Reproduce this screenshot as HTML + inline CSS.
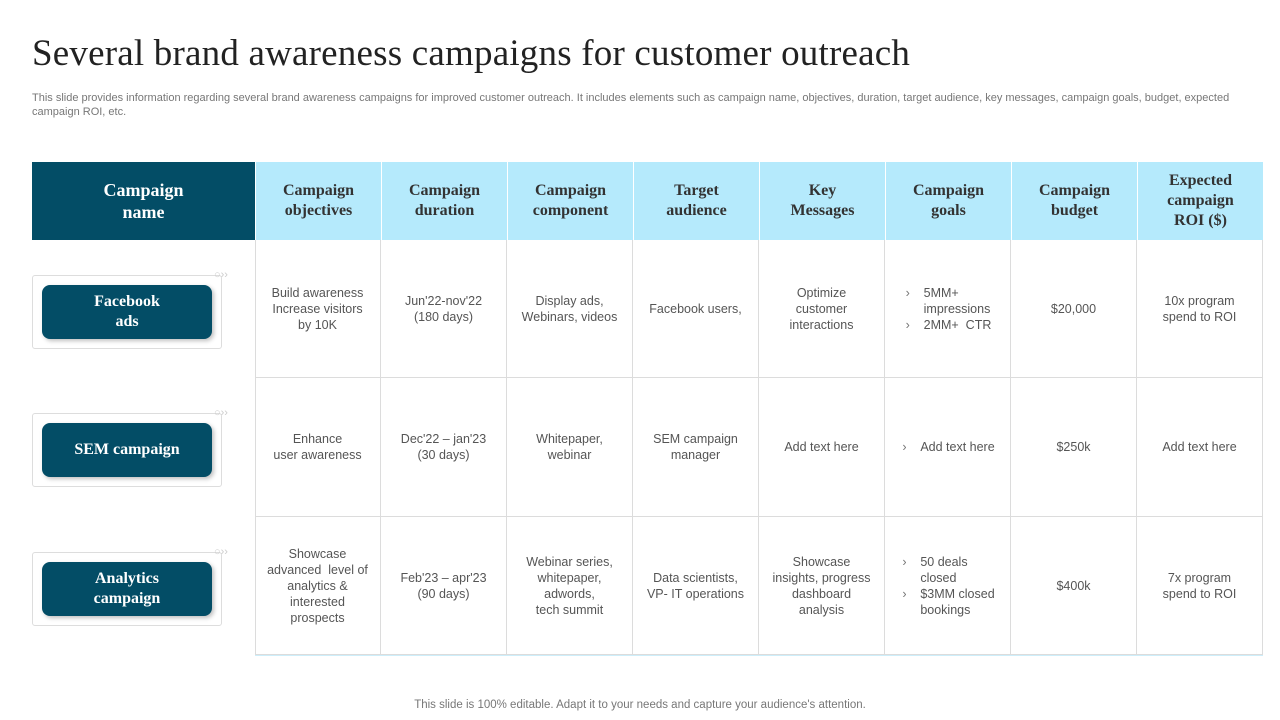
<!DOCTYPE html>
<html><head><meta charset="utf-8"><style>
*{margin:0;padding:0;box-sizing:border-box}
body{width:1280px;height:720px;background:#fff;position:relative;overflow:hidden;font-family:"Liberation Sans",sans-serif}
.abs{position:absolute}
h1{position:absolute;left:32px;top:32px;font-family:"Liberation Serif",serif;font-weight:normal;font-size:37px;color:#222;letter-spacing:0.2px}
.sub{left:32px;top:91px;width:1220px;font-size:11px;line-height:14px;color:#777}
.hname{left:32px;top:162px;width:223px;height:78px;background:#034d66;color:#fff;font-family:"Liberation Serif",serif;font-weight:bold;font-size:18px;line-height:22px;display:flex;align-items:center;justify-content:center;text-align:center}
.hc{top:162px;height:78px;width:126px;background:#b5eafc;border-left:1px solid #fff;color:#333;font-family:"Liberation Serif",serif;font-weight:bold;font-size:16px;line-height:20px;display:flex;align-items:center;justify-content:center;text-align:center}
.c{width:126px;border-right:1px solid #dcdcdc;border-bottom:1px solid #dcdcdc;color:#555;font-size:12.5px;line-height:16px;display:flex;align-items:center;justify-content:center;text-align:center;padding:0 6px}
.c ul{list-style:none;text-align:left}
.c li{position:relative;padding-left:20px}
.c li:before{content:"›";position:absolute;left:2px;color:#777}
.card{left:32px;width:190px;height:74px;border:1px solid #ddd;border-radius:3px;background:#fff}
.btn{left:42px;width:170px;height:54px;background:#034d66;border-radius:8px;box-shadow:2px 2px 4px rgba(0,0,0,.25);color:#fff;font-family:"Liberation Serif",serif;font-weight:bold;font-size:16px;line-height:20px;display:flex;align-items:center;justify-content:center;text-align:center}
.deco{left:214px;width:30px;height:12px;color:#ccc;font-size:14px;line-height:12px}
.foot{left:0;width:1280px;top:699px;text-align:center;font-size:11.5px;color:#777}
</style></head><body>
<h1>Several brand awareness campaigns for customer outreach</h1>
<div class="abs sub">This slide provides information regarding several brand awareness campaigns for improved customer outreach. It includes elements such as campaign name, objectives, duration, target audience, key messages, campaign goals, budget, expected campaign ROI, etc.</div>
<div class="abs hname">Campaign<br>name</div>
<div class="abs" style="left:255px;top:240px;width:1px;height:415px;background:#dcdcdc"></div>
<div class="abs" style="left:255px;top:654px;width:1008px;height:2px;background:#cdeefa"></div>
<div id="tbl"></div>
<div class="abs foot">This slide is 100% editable. Adapt it to your needs and capture your audience's attention.</div>
<script>
const headers=["Campaign<br>objectives","Campaign<br>duration","Campaign<br>component","Target<br>audience","Key<br>Messages","Campaign<br>goals","Campaign<br>budget","Expected<br>campaign<br>ROI ($)"];
const names=["Facebook<br>ads","SEM campaign","Analytics<br>campaign"];
const rows=[
["Build awareness<br>Increase visitors<br>by 10K","Jun'22-nov'22<br>(180 days)","Display ads,<br>Webinars, videos","Facebook users,","Optimize<br>customer<br>interactions","<ul><li>5MM+<br>impressions</li><li>2MM+&nbsp; CTR</li></ul>","$20,000","10x program<br>spend to ROI"],
["Enhance<br>user awareness","Dec'22 – jan'23<br>(30 days)","Whitepaper,<br>webinar","SEM campaign<br>manager","Add text here","<ul><li>Add text here</li></ul>","$250k","Add text here"],
["Showcase<br>advanced&nbsp; level of<br>analytics &amp;<br>interested<br>prospects","Feb'23 – apr'23<br>(90 days)","Webinar series,<br>whitepaper,<br>adwords,<br>tech summit","Data scientists,<br>VP- IT operations","Showcase<br>insights, progress<br>dashboard<br>analysis","<ul><li>50 deals<br>closed</li><li>$3MM closed<br>bookings</li></ul>","$400k","7x program<br>spend to ROI"]];
const b=document.body;
const rowTops=[240,378,517],rowH=[138,139,138];
headers.forEach((h,i)=>{const d=document.createElement('div');d.className='abs hc';d.style.left=(255+i*126)+'px';d.innerHTML=h;


b.appendChild(d);});
rows.forEach((r,ri)=>{
 r.forEach((t,ci)=>{const d=document.createElement('div');d.className='abs c';d.style.left=(255+ci*126)+'px';d.style.top=rowTops[ri]+'px';d.style.height=rowH[ri]+'px';d.innerHTML=t;
 
 
 b.appendChild(d);});
 const cy=rowTops[ri]+35;
 const card=document.createElement('div');card.className='abs card';card.style.top=cy+'px';
 
 
 b.appendChild(card);
 const dec=document.createElement('div');dec.className='abs deco';dec.style.top=(cy-6)+'px';dec.innerHTML='○››';dec.style.fontSize='11px';
 
 
 b.appendChild(dec);
 const btn=document.createElement('div');btn.className='abs btn';btn.style.top=(cy+10)+'px';btn.innerHTML=names[ri];
 
 
 b.appendChild(btn);
});
</script>
</body></html>
